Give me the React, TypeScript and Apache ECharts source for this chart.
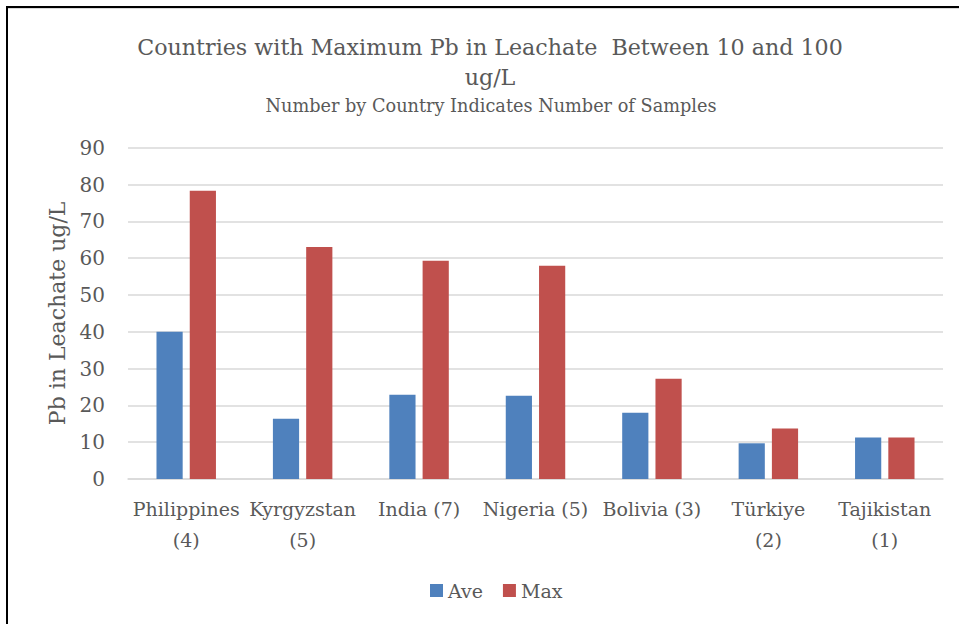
import React, { useEffect, useRef } from "react";
import * as echarts from "echarts";

const categories = [
  "Philippines\n(4)",
  "Kyrgyzstan\n(5)",
  "India (7)",
  "Nigeria (5)",
  "Bolivia (3)",
  "Türkiye\n(2)",
  "Tajikistan\n(1)",
];
const aveValues = [40.0, 16.4, 22.9, 22.6, 18.0, 9.7, 11.3];
const maxValues = [78.3, 63.0, 59.3, 57.9, 27.2, 13.7, 11.3];
const yTicks = { min: 0, max: 90, interval: 10 };

const FONT = "'DejaVu Serif', 'Liberation Serif', serif";
const GREY = "#595959";

export default function App() {
  const ref = useRef<HTMLDivElement>(null);
  useEffect(() => {
    if (!ref.current) return;
    const chart = echarts.init(ref.current, null, { renderer: "svg" });
    chart.setOption({
      animation: false,
      backgroundColor: "#ffffff",
      title: [
        {
          text: "Countries with Maximum Pb in Leachate  Between 10 and 100\nug/L",
          left: 485,
          textAlign: "center",
          top: 27,
          textStyle: { fontFamily: FONT, fontSize: 22.2, fontWeight: "normal", color: GREY, lineHeight: 30 },
        },
        {
          text: "Number by Country Indicates Number of Samples",
          left: 486,
          textAlign: "center",
          top: 90,
          textStyle: { fontFamily: FONT, fontSize: 17.7, fontWeight: "normal", color: GREY, lineHeight: 22 },
        },
      ],
      legend: {
        data: ["Ave", "Max"],
        left: 425,
        top: 576,
        itemWidth: 13,
        itemHeight: 13,
        itemGap: 20,
        icon: "rect",
        textStyle: { fontFamily: FONT, fontSize: 19, color: GREY },
      },
      grid: { left: 128, right: 16, top: 147.7, bottom: 145, containLabel: false },
      xAxis: {
        type: "category",
        data: categories,
        axisTick: { show: false },
        axisLine: { lineStyle: { color: "#d9d9d9", width: 1.5 } },
        axisLabel: {
          interval: 0,
          fontFamily: FONT,
          fontSize: 19,
          color: GREY,
          lineHeight: 31,
          margin: 14,
        },
      },
      yAxis: {
        type: "value",
        min: yTicks.min,
        max: yTicks.max,
        interval: yTicks.interval,
        name: "Pb in Leachate ug/L",
        nameLocation: "middle",
        nameGap: 60,
        nameRotate: 90,
        nameTextStyle: { fontFamily: FONT, fontSize: 22, color: GREY },
        axisLine: { show: false },
        axisTick: { show: false },
        axisLabel: { fontFamily: FONT, fontSize: 20, color: GREY, margin: 23 },
        splitLine: { lineStyle: { color: "#d9d9d9", width: 1.5 } },
      },
      series: [
        {
          name: "Ave",
          type: "bar",
          data: aveValues,
          barWidth: "22.5%",
          barGap: "27%",
          itemStyle: { color: "#4f81bd" },
        },
        {
          name: "Max",
          type: "bar",
          data: maxValues,
          barWidth: "22.5%",
          barGap: "27%",
          itemStyle: { color: "#c0504d" },
        },
      ],
      graphic: [
        { type: "rect", shape: { x: 6, y: 6, width: 960, height: 2 }, style: { fill: "#000" }, silent: true },
        { type: "rect", shape: { x: 6, y: 6, width: 2, height: 620 }, style: { fill: "#000" }, silent: true },
        { type: "line", shape: { x1: 8, y1: 8.5, x2: 959, y2: 8.5 }, style: { stroke: "#d9d9d9", lineWidth: 1 }, silent: true },
      ],
    });
    return () => chart.dispose();
  }, []);
  return (
    <div
      ref={ref}
      style={{ position: "fixed", left: 0, top: 0, width: 959, height: 624 }}
    />
  );
}
